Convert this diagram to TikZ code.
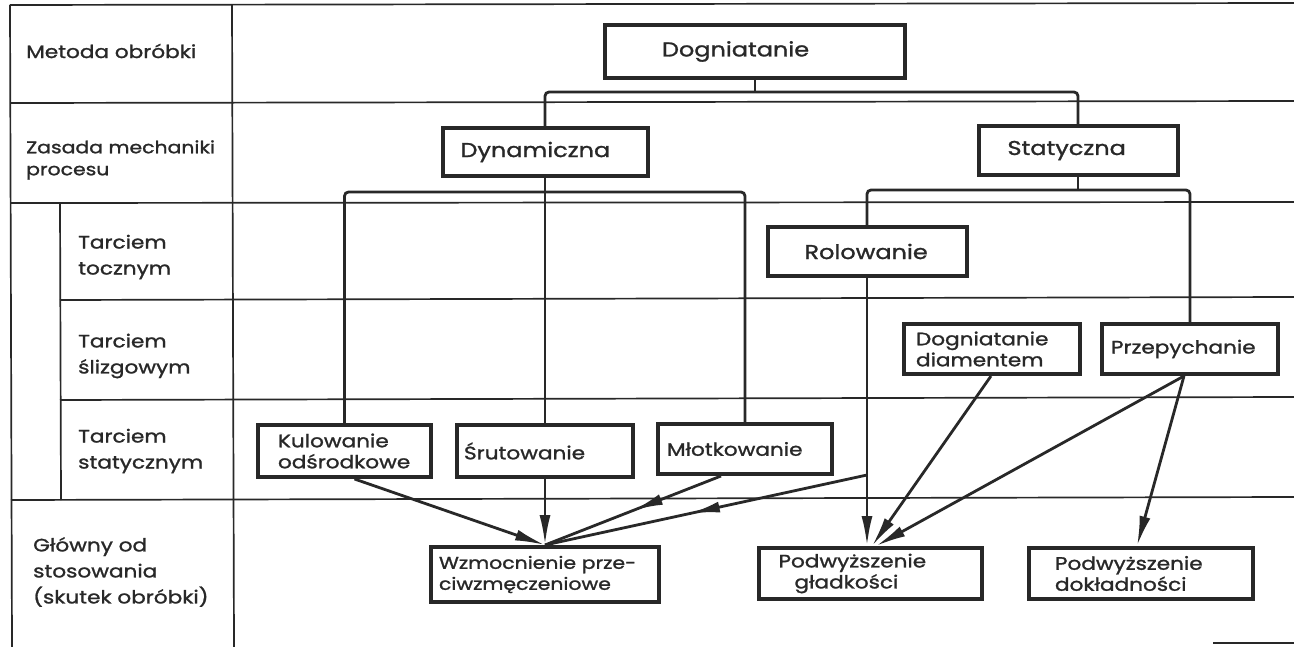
\documentclass[tikz,border=0pt]{standalone}
\usepackage{fontspec}
\setmainfont{Poppins}[FakeStretch=1.2,FakeBold=1.3,AutoFakeBold=1.3]
\usetikzlibrary{arrows.meta,decorations.markings,calc}
\definecolor{ink}{RGB}{40,40,40}
\begin{document}
\begin{tikzpicture}[x=1pt,y=-1pt,
  grid/.style={draw=ink,line width=1.7pt},
  conn/.style={draw=ink,line width=2.8pt,rounded corners=4pt},
  arr/.style={conn,-{Latex[length=30pt,width=11pt]}},
  midarr/.style={conn,postaction={decorate},decoration={markings,mark=at position #1 with {\arrow{Latex[length=30pt,width=11pt]}}}},
  box/.style={draw=ink,line width=4pt,inner ysep=0pt,align=left,text=ink,font=\fontsize{18}{21}\selectfont\bfseries},
  bigbox/.style={box,font=\fontsize{20}{24}\selectfont\bfseries},
  lbl/.style={anchor=west,align=left,inner sep=0pt,text=ink,font=\fontsize{18}{26}\selectfont\bfseries}]
\useasboundingbox (0,0) rectangle (1294,647);
\fill[white] (0,0) rectangle (1294,647);

% table
\draw[grid] (10,5) -- (1294,3);
\draw[grid] (10,5) -- (12,647);
\draw[grid] (232,5) -- (234,647);
\draw[grid] (11,103) -- (1294,101);
\draw[grid] (11,203) -- (1294,202);
\draw[grid] (60,203) -- (61,500);
\draw[grid] (60,300) -- (1294,297);
\draw[grid] (60,400) -- (1294,397);
\draw[grid] (11,500) -- (1294,497);
\draw[grid] (1213,643) -- (1294,643);

% row labels
\node[lbl] (l1) at (26,51) {Metoda obróbki};
\node[lbl,font=\fontsize{17}{22}\selectfont\bfseries] (l2) at (26,160) {Zasada mechaniki\\procesu};
\node[lbl] (l3) at (78,257) {Tarciem\\tocznym};
\node[lbl] (l4) at (78,356) {Tarciem\\ślizgowym};
\node[lbl] (l5) at (78,451) {Tarciem\\statycznym};
\node[lbl] (l6) at (33,572) {Główny od\\stosowania\\(skutek obróbki)};

% boxes
\node[bigbox,minimum height=53pt,inner xsep=57pt,text width=186pt] (dog) at (755,51.5) {Dogniatanie};
\node[bigbox,minimum height=48pt,inner xsep=18pt,text width=169pt] (dyn) at (545,152) {Dynamiczna};
\node[bigbox,minimum height=49pt,inner xsep=29pt,text width=141pt] (sta) at (1078,150.5) {Statyczna};
\node[bigbox,minimum height=49pt,inner xsep=37pt,text width=125pt] (rol) at (867,251.5) {Rolowanie};
\node[box,minimum height=50pt,inner xsep=12pt,text width=152pt] (dia) at (992,349) {Dogniatanie\\diamentem};
\node[box,minimum height=50pt,inner xsep=9pt,text width=158pt] (prz) at (1190,349) {Przepychanie};
\node[box,minimum height=52pt,inner xsep=20pt,text width=133pt] (kul) at (344.5,451) {Kulowanie\\odśrodkowe};
\node[box,minimum height=52pt,inner xsep=7pt,text width=162pt] (sru) at (545,451) {Śrutowanie};
\node[box,minimum height=50pt,inner xsep=9pt,text width=156pt] (mlo) at (745,449) {Młotkowanie};
\node[box,font=\fontsize{17}{21}\selectfont\bfseries,minimum height=55pt,inner xsep=8pt,text width=212pt] (wzm) at (545,574.5) {Wzmocnienie prze-\\ciwzmęczeniowe};
\node[box,minimum height=51pt,inner xsep=20pt,text width=183pt] (gla) at (870,573.5) {Podwyższenie\\\hspace*{16pt}gładkości};
\node[box,minimum height=51pt,inner xsep=26pt,text width=172pt] (dok) at (1141,573.5) {Podwyższenie\\dokładności};

% connectors
\coordinate (b1) at (0,92);
\coordinate (b2) at (0,192);
\coordinate (b3) at (0,190);
\coordinate (ry) at (0,475);
\draw[conn] (dog.south) -- (dog.south |- b1);
\draw[conn] (dyn.north) |- (b1 -| sta.north) -- (sta.north);
\draw[conn] (dyn.south) -- (dyn.south |- b2);
\draw[conn] (kul.north) |- (b2 -| mlo.north) -- (mlo.north);
\draw[conn] (sru.north) -- (sru.north |- b2);
\draw[conn] (sta.south) -- (sta.south |- b3);
\draw[conn] (rol.north) |- (b3 -| prz.north) -- (prz.north);
\coordinate (rb) at (rol.south |- ry);

\draw[arr] (rol.south) -- (rol.south |- gla.north);
\draw[arr] ([xshift=10pt]kul.south) -- (wzm.north);
\draw[arr] (sru.south) -- (wzm.north);
\draw[midarr=0.5] ([xshift=-24pt]mlo.south) -- (wzm.north);
\draw[midarr=0.55] (rb) -- (wzm.north);
\draw[arr] ([xshift=-1pt]dia.south) -- ([xshift=2pt]gla.north);
\draw[arr] ([xshift=-6pt]prz.south) -- ([xshift=6pt]gla.north);
\draw[arr] ([xshift=-6pt]prz.south) -- ([xshift=-4pt]dok.north);
\end{tikzpicture}
\end{document}
